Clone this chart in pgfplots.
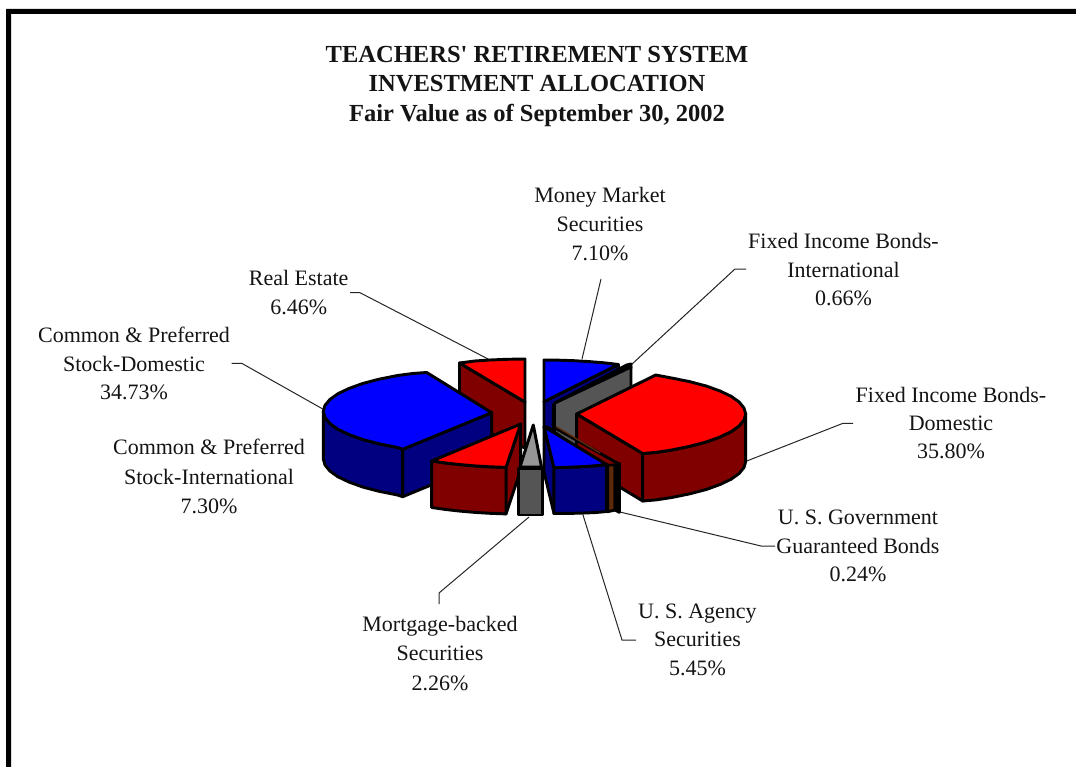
\documentclass[border=0pt]{standalone}
\usepackage{pgfplots}
\pgfplotsset{compat=1.18}
\usepackage{fontspec}
\setmainfont{Liberation Serif}
\definecolor{dred}{HTML}{800000}
\definecolor{rred}{HTML}{FF0000}
\definecolor{bblu}{HTML}{0000FF}
\definecolor{dblu}{HTML}{000080}
\definecolor{lgry}{HTML}{969696}
\definecolor{dgry}{HTML}{555555}
\definecolor{brwn}{HTML}{5C2A0A}
\newcommand{\lab}[3]{\node[anchor=base,inner sep=0pt,text=black!92] at (axis cs:#1,#2) {#3};}
\newcommand{\ttl}[3]{\node[anchor=base,inner sep=0pt,text=black!92,font=\fontsize{18.4}{22}\selectfont\bfseries] at (axis cs:#1,#2) {#3};}
\begin{document}
\begin{tikzpicture}
\path[use as bounding box,fill=white] (0,0) rectangle (807pt,575.25pt);
\begin{axis}[at={(0,0)},anchor=south west,scale only axis,width=807pt,height=575.25pt,
  xmin=0,xmax=1076,ymin=0,ymax=767,y dir=reverse,hide axis,
  font=\fontsize{16.5}{20}\selectfont,
  face/.style={draw=black,line width=2.2pt,line join=round,mark=none},
  lead/.style={draw=black!85,line width=0.75pt,mark=none}]
% frame
\addplot[fill=black,draw=none,mark=none] coordinates {(6,767)(6,9)(1076,9)(1076,14)(11,14)(11,767)} -- cycle;
% leaders
\addplot[lead] coordinates {(350,292.7)(360,292.7)(490,360)};
\addplot[lead] coordinates {(231.7,363.3)(241.7,363.3)(323.3,409.3)};
\addplot[lead] coordinates {(601,279)(582,359)};
\addplot[lead] coordinates {(746,269)(735,269)(631,365)};
\addplot[lead] coordinates {(853,423.3)(843,423.3)(745,461.7)};
\addplot[lead] coordinates {(775,546)(761,546)(620,512)};
\addplot[lead] coordinates {(636,640)(622,640)(583,515)};
\addplot[lead] coordinates {(439,604)(439,593)(529,517)};
% Real estate
\addplot[face,fill=dred] coordinates {(459.5,363)(525,402)(525,448)(459.5,420)} -- cycle;
\addplot[face,fill=rred] coordinates {(459.5,363)(475,361)(490,360)(507,359.3)(525,359)(525,402)} -- cycle;
% Stock domestic
\addplot[face,fill=dblu] coordinates {(402.7,449.3)(491.7,412.7)(491.7,460)(402.7,496.7)} -- cycle;
\addplot[face,fill=dblu] coordinates {(323.3,411.5)(325,417.5)(329.9,423.5)(337.8,429.2)(348.9,434.5)(362.7,439.5)(379,443.8)(397.6,447.5)(402.7,449.3)(402.7,496.7)(397.6,495)(379,491.3)(362.7,487)(348.9,482)(337.8,476.7)(329.9,471)(325,465)(323.3,459)} -- cycle;
\addplot[face,fill=bblu] coordinates {(323.3,411.5)(324.9,405.5)(329.9,399.5)(337.8,393.8)(348.9,388.5)(362.7,383.5)(379,379.2)(397.6,375.5)(412.7,373.5)(426.7,372.5)(491.7,412.7)(402.7,449.3)(397.6,447.5)(379,443.8)(362.7,439.5)(348.9,434.5)(337.8,429.2)(329.9,423.5)(325,417.5)} -- cycle;
% Stock international
\addplot[face,fill=dred] coordinates {(506,467.4)(520.7,424)(520.7,470)(506,513.9)} -- cycle;
\addplot[face,fill=dred] coordinates {(431.7,461)(445,462.9)(460,464.6)(475,465.9)(490,466.8)(506,467.4)(506,513.9)(490,513.3)(475,512.4)(460,511.1)(445,509.4)(431.7,507.5)} -- cycle;
\addplot[face,fill=rred] coordinates {(431.7,461)(520.7,424)(506,467.4)(490,466.8)(475,465.9)(460,464.6)(445,462.9)} -- cycle;
% Money market
\addplot[face,fill=dblu] coordinates {(544,401.7)(618.3,364.5)(618.3,372)(553.3,405)(553.3,430)(544,426)} -- cycle;
\addplot[face,fill=bblu] coordinates {(544,360)(559,360.2)(574,360.7)(589,361.6)(604,362.8)(618.3,364.5)(544,401.7)} -- cycle;
% Fixed international
\addplot[face,fill=black] coordinates {(554.3,403.3)(626.7,365)(631,364)(631,368)} -- cycle;
\addplot[face,fill=dgry] coordinates {(554.3,403.3)(631,367)(631,420)(576.7,448)(554.3,432)} -- cycle;
% Fixed domestic
\addplot[face,fill=dred] coordinates {(576.7,414)(642.7,453.5)(642.7,501)(576.7,461)} -- cycle;
\addplot[face,fill=dred] coordinates {(642.7,453.5)(656,452.4)(671.2,450.1)(689.8,446.3)(706.2,442)(720,437)(731.1,431.7)(739.1,426)(744,420)(745.7,414)(745.7,461.5)(744,467.5)(739.1,473.5)(731.1,479.2)(720,484.5)(706.2,489.5)(689.8,493.8)(671.2,497.6)(656,499.9)(642.7,501)} -- cycle;
\addplot[face,fill=rred] coordinates {(576.7,414)(655.7,375)(673.6,378.4)(689.8,381.7)(706.2,386)(720,391)(731.1,396.3)(739.1,402)(744,408)(745.7,414)(744,420)(739.1,426)(731.1,431.7)(720,437)(706.2,442)(689.8,446.3)(671.2,450.1)(656,452.4)(642.7,453.5)} -- cycle;
% Government guaranteed
\addplot[draw=black,line width=2.2pt,mark=none] coordinates {(553.3,427)(619,464)};
\addplot[draw=brwn,line width=1pt,mark=none] coordinates {(556,426.5)(600,453)};
\addplot[face,fill=brwn] coordinates {(607.7,465)(615,465)(615,510)(607.7,511.7)} -- cycle;
\addplot[face,fill=black] coordinates {(615,465)(619.3,463.3)(619.3,512.3)(615,510)} -- cycle;
% Agency
\addplot[face,fill=dblu] coordinates {(544,426.7)(554,467.7)(554,513.5)(544,472)} -- cycle;
\addplot[face,fill=dblu] coordinates {(554,467.7)(570,467.2)(585,466.5)(596,465.7)(606.7,464.5)(606.7,511.5)(596,512.5)(585,513)(570,513.4)(554,513.5)} -- cycle;
\addplot[face,fill=bblu] coordinates {(544,426.7)(606.7,464.5)(596,465.7)(585,466.5)(570,467.2)(554,467.7)} -- cycle;
% Mortgage
\addplot[face,fill=dgry] coordinates {(518.3,468.3)(542.7,468.3)(542.7,515)(518.3,515)} -- cycle;
\addplot[face,fill=lgry] coordinates {(533.3,425)(541.5,467)(520,467)} -- cycle;
% labels
\ttl{537}{63}{TEACHERS\textquotesingle{} RETIREMENT SYSTEM}
\ttl{537}{92}{INVESTMENT ALLOCATION}
\ttl{537}{122}{Fair Value as of September 30, 2002}
\lab{600}{203}{Money Market}\lab{600}{232}{Securities}\lab{600}{260}{7.10\%}
\lab{843.5}{248}{Fixed Income Bonds-}\lab{843.5}{277}{International}\lab{843.5}{305}{0.66\%}
\lab{951}{402}{Fixed Income Bonds-}\lab{951}{430}{Domestic}\lab{951}{458}{35.80\%}
\lab{858}{524}{U. S. Government}\lab{858}{553}{Guaranteed Bonds}\lab{858}{581}{0.24\%}
\lab{697.5}{618}{U. S. Agency}\lab{697.5}{646}{Securities}\lab{697.5}{675}{5.45\%}
\lab{440}{631}{Mortgage-backed}\lab{440}{660}{Securities}\lab{440}{690}{2.26\%}
\lab{298.7}{285}{Real Estate}\lab{298.7}{314}{6.46\%}
\lab{134}{342}{Common \& Preferred}\lab{134}{371}{Stock-Domestic}\lab{134}{399}{34.73\%}
\lab{209}{454}{Common \& Preferred}\lab{209}{484}{Stock-International}\lab{209}{513}{7.30\%}
\end{axis}
\end{tikzpicture}
\end{document}
